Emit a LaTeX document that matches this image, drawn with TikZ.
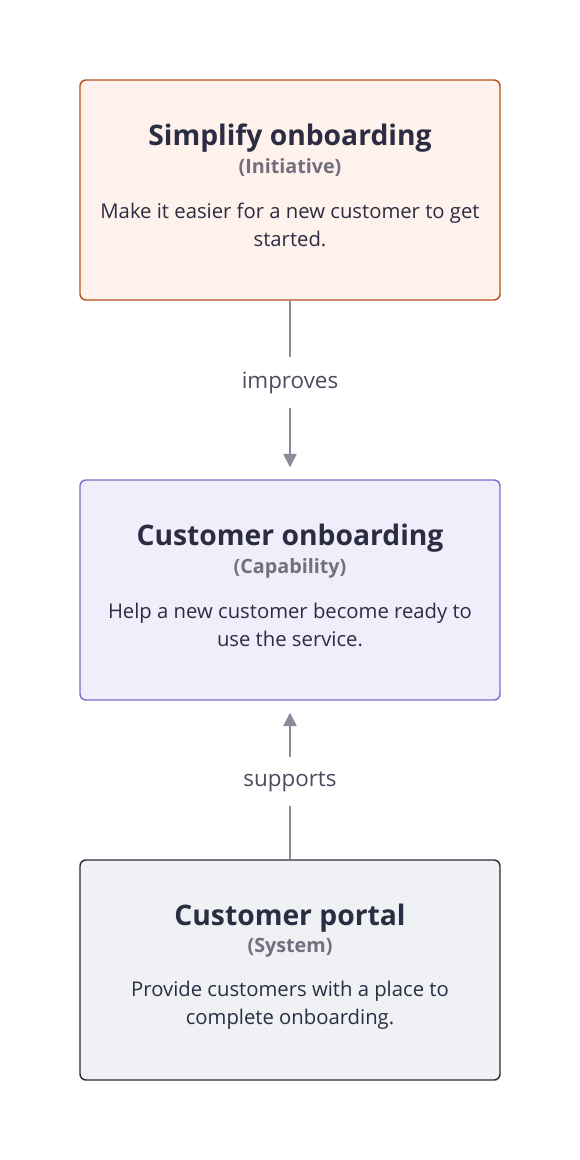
\documentclass[tikz,border=0pt]{standalone}
\usepackage{fontspec}
\setmainfont{Open Sans}
\usetikzlibrary{arrows.meta}

\definecolor{inkdark}{HTML}{2B2D42}
\definecolor{inkgray}{HTML}{72707F}
\definecolor{wiregray}{HTML}{8A8C9E}
\definecolor{initfill}{HTML}{FFF2EC}
\definecolor{initline}{HTML}{B4521E}
\definecolor{capfill}{HTML}{F1EDFB}
\definecolor{capline}{HTML}{7E6CC8}
\definecolor{sysfill}{HTML}{EFF1F5}
\definecolor{sysline}{HTML}{2A2D3A}

\tikzset{
    card/.style={rectangle, rounded corners=4.5pt, line width=1.1pt, minimum width=315pt, minimum height=165pt},
    cardtitle/.style={text=inkdark, font=\fontsize{21.2pt}{25pt}\selectfont\bfseries},
    cardkind/.style={text=inkgray, font=\fontsize{14.8pt}{18pt}\selectfont\bfseries},
    cardtext/.style={text=inkdark, align=center, font=\fontsize{15.2pt}{21pt}\selectfont},
    wire/.style={draw=wiregray, line width=1.3pt, -{Triangle[length=10pt,width=10pt]}},
    wirelabel/.style={fill=white, text=inkdark!85, inner sep=11pt, font=\fontsize{16.8pt}{20pt}\selectfont}
}

\begin{document}
\begin{tikzpicture}[x=0.75pt, y=-0.75pt]
    \useasboundingbox (0,0) rectangle (580,1160);
    % Place cards
    \node [card, fill=initfill, draw=initline] (initiative) at (290,190) {};
    \node [cardtitle] (initiativeTitle) at (290,138) {Simplify onboarding};
    \node [cardkind] (initiativeKind) at (290,168) {(Initiative)};
    \node [cardtext] (initiativeText) at (290,225) {Make it easier for a new customer to get\\ started.};

    \node [card, fill=capfill, draw=capline] (capability) at (290,590) {};
    \node [cardtitle] (capabilityTitle) at (290,538) {Customer onboarding};
    \node [cardkind] (capabilityKind) at (290,568) {(Capability)};
    \node [cardtext] (capabilityText) at (290,625) {Help a new customer become ready to\\ use the service.};

    \node [card, fill=sysfill, draw=sysline] (system) at (290,970) {};
    \node [cardtitle] (systemTitle) at (290,918) {Customer portal};
    \node [cardkind] (systemKind) at (290,948) {(System)};
    \node [cardtext] (systemText) at (290,1005) {Provide customers with a place to\\ complete onboarding.};

    % Connectors
    \path [wire, shorten >=9pt] (initiative) -- node [wirelabel, pos=0.46] (improvesLabel) {improves} (capability);
    \path [wire, shorten >=9pt] (system) -- node [wirelabel, pos=0.49] (supportsLabel) {supports} (capability);
\end{tikzpicture}
\end{document}
